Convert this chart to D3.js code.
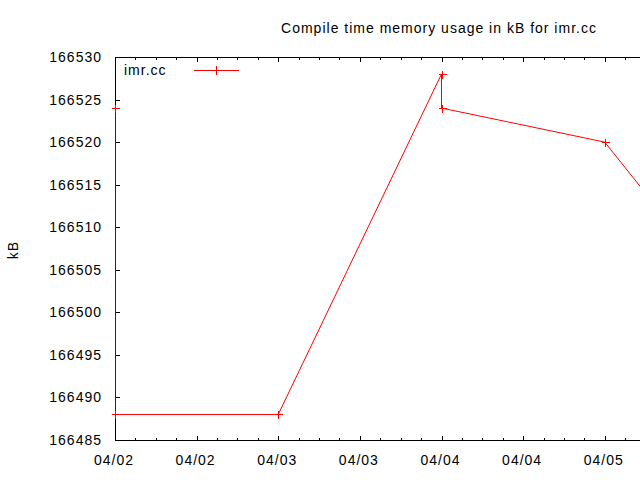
<!DOCTYPE html>
<html><head><meta charset="utf-8">
<script src="https://cdn.jsdelivr.net/npm/d3@7"></script>
<style>body{margin:0;background:#fff}svg{display:block}text{font-family:"Liberation Sans",Arial,sans-serif;letter-spacing:1px;}</style>
</head><body>
<svg id="c" width="640" height="480"></svg>
<script>
const title = "Compile time memory usage in kB for imr.cc";
const seriesName = "imr.cc";
const yLabel = "kB";
const dates = ["2010-04-02T00:00","2010-04-02T00:00","2010-04-03T00:00","2010-04-04T00:00","2010-04-04T00:00","2010-04-05T00:00","2010-04-06T00:00"];
const values = [166524,166488,166488,166528,166524,166520,166496];
const yTicks = [166485,166490,166495,166500,166505,166510,166515,166520,166525,166530];
const xDomain = ["2010-04-02T00:00","2010-04-06T00:00"];

const parse = d3.timeParse("%Y-%m-%dT%H:%M");
const data = dates.map((d,i)=>({t:parse(d), v:values[i]}));
const svg = d3.select("#c");
const W = 640;
const L=115, R=768, T=57, B=440;
const x = d3.scaleTime().domain(xDomain.map(parse)).range([L,R]);
const y = d3.scaleLinear().domain([166485,166530]).range([B,T]);
const red = "#ff0000";

svg.append("defs").append("clipPath").attr("id","clip").append("rect")
  .attr("x",L).attr("y",T).attr("width",R-L).attr("height",B-T);

// border
svg.append("rect").attr("x",L+0.5).attr("y",T+0.5).attr("width",R-L).attr("height",B-T)
  .attr("fill","none").attr("stroke","#000").attr("stroke-width",1);

// ticks
const major = x.ticks(d3.timeHour.every(12));
const minor = x.ticks(d3.timeHour.every(3)).filter(d=>d.getHours()%12!==0);
const g = svg.append("g").attr("stroke","#000").attr("stroke-width",1).attr("shape-rendering","crispEdges");
major.forEach(d=>{const px=Math.round(x(d))+0.5;
  g.append("line").attr("x1",px).attr("x2",px).attr("y1",B).attr("y2",B-4);
  g.append("line").attr("x1",px).attr("x2",px).attr("y1",T).attr("y2",T+5);});
minor.forEach(d=>{const px=Math.round(x(d))+0.5;
  g.append("line").attr("x1",px).attr("x2",px).attr("y1",B).attr("y2",B-2);
  g.append("line").attr("x1",px).attr("x2",px).attr("y1",T).attr("y2",T+3);});
yTicks.forEach(v=>{const py=Math.round(y(v))+0.5;
  g.append("line").attr("x1",L).attr("x2",L+5).attr("y1",py).attr("y2",py);
  g.append("line").attr("x1",R).attr("x2",R-5).attr("y1",py).attr("y2",py);});

const fmt = d3.timeFormat("%m/%d");
svg.append("g").selectAll("text").data(major.filter(d=>x(d)+20<=W)).join("text")
  .attr("x",d=>x(d)-1).attr("y",B+25).attr("text-anchor","middle")
  .attr("font-size",14).attr("fill","#000").text(d=>fmt(d));
svg.append("g").selectAll("text").data(yTicks).join("text")
  .attr("x",L-13).attr("y",d=>y(d)+5).attr("text-anchor","end")
  .attr("font-size",14).attr("fill","#000").text(d=>d);

svg.append("text").attr("x",439).attr("y",33).attr("text-anchor","middle")
  .attr("font-size",14).attr("fill","#000").text(title);
svg.append("text").attr("transform","translate(18,250) rotate(-90)").attr("text-anchor","middle")
  .attr("font-size",14).attr("fill","#000").text(yLabel);

// series
const pg = svg.append("g").attr("clip-path","url(#clip)");
pg.append("path").datum(data).attr("fill","none").attr("stroke",red).attr("stroke-width",1)
  .attr("d",d3.line().x(d=>x(d.t)).y(d=>y(d.v)));
const mg = svg.append("g").attr("stroke",red).attr("stroke-width",1).attr("shape-rendering","crispEdges");
data.forEach(d=>{const px=Math.round(x(d.t))+0.5, py=Math.round(y(d.v))+0.5;
  if(px>W) return;
  mg.append("line").attr("x1",px-4).attr("x2",px+4).attr("y1",py).attr("y2",py);
  mg.append("line").attr("x1",px).attr("x2",px).attr("y1",py-4).attr("y2",py+4);});

// legend
svg.append("text").attr("x",124).attr("y",75).attr("font-size",14).attr("fill","#000").text(seriesName);
const lg = svg.append("g").attr("stroke",red).attr("stroke-width",1).attr("shape-rendering","crispEdges");
lg.append("line").attr("x1",194).attr("x2",239).attr("y1",70.5).attr("y2",70.5);
lg.append("line").attr("x1",216.5).attr("x2",216.5).attr("y1",66).attr("y2",75);
</script>
</body></html>
